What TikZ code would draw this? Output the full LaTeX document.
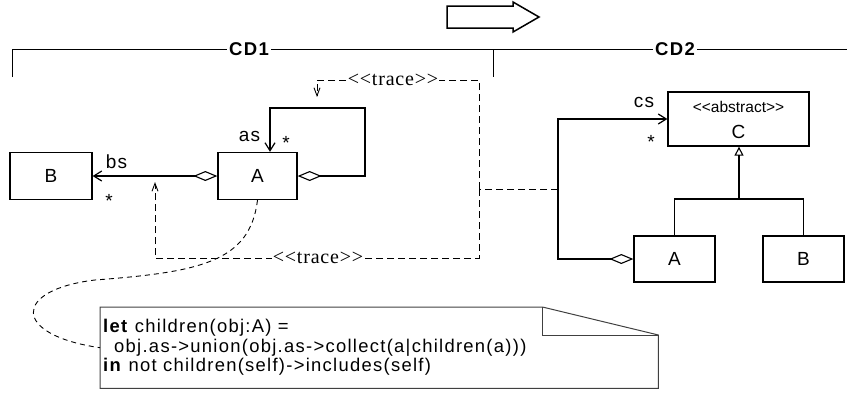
\documentclass[tikz,border=0pt]{standalone}
\usepackage{fontspec}
\setmainfont{Liberation Sans}[LetterSpace=7, Ligatures=TeXOff]
\newfontfamily\tracefont{Liberation Serif}[LetterSpace=4, Ligatures=TeXOff]
\newfontfamily\stereofont{Liberation Sans}[LetterSpace=0, Ligatures=TeXOff]
\usetikzlibrary{arrows.meta}
\begin{document}
\begin{tikzpicture}[x=1pt,y=-1pt,
  every node/.style={font=\fontsize{19}{22}\selectfont, inner sep=0pt},
  cls/.style={draw, line width=1.3pt},
  agg/.style={line width=1.3pt, {Diamond[open,length=24pt,width=10pt,line width=1.1pt]}-{Straight Barb[length=8pt,width=10pt,line width=1.2pt]}},
  trline/.style={dash pattern=on 7pt off 4pt, line width=1pt},
  tr/.style={trline, -{Straight Barb[length=8pt,width=6pt,line width=0.9pt]}},
  trlab/.style={fill=white, font=\tracefont\fontsize{20}{22}\selectfont, inner xsep=1pt, inner ysep=1pt},
  cd/.style={fill=white, font=\bfseries\fontsize{18.5}{21}\selectfont, inner xsep=2pt},
  gen/.style={line width=1.3pt},
]
\useasboundingbox (0,0) rectangle (847,394);

% big transformation arrow
\draw[line width=1.5pt, line join=miter] (447,6) -- (513,6) -- (513,2) -- (539,17) -- (513,32) -- (513,28) -- (447,28) -- cycle;

% frames
\draw[line width=1pt] (12,77) -- (12,49.5) -- (847,49.5);
\draw[line width=1pt] (493,49.5) -- (493,77);
\node[cd] (cd1) at (249,49.5) {CD1};
\node[cd] (cd2) at (675,49.5) {CD2};

% CD1 classes
\node[cls, minimum width=82pt, minimum height=47pt] (B) at (51,176) {B};
\node[cls, minimum width=79pt, minimum height=47pt] (A) at (257.5,176) {A};

% bs association
\draw[agg] (A.west) -- (B.east);
\node (bs) at (116.5,161.5) {bs};
\node (bsm) at (109,201) {*};

% self association
\coordinate (loopBR) at (365,176);
\coordinate (loopTR) at (365,108);
\coordinate (loopTL) at (270,108);
\draw[agg] (A.east) -- (loopBR) -- (loopTR) -- (loopTL) -- (loopTL |- A.north);
\node (as) at (249.5,136) {as};
\node (asm) at (286,143) {*};

% CD2 classes
\node[cls, minimum width=141pt, minimum height=54pt] (C) at (738.5,119) {};
\node[font=\stereofont\fontsize{15.5}{17}\selectfont] (Cst) at (738.5,106.5) {<<abstract>>};
\node (Cn) at (738.5,131.5) {C};
\node[cls, minimum width=81pt, minimum height=46pt] (A2) at (674.5,259) {A};
\node[cls, minimum width=81pt, minimum height=46pt] (B2) at (803.5,259) {B};

% cs association
\coordinate (cj) at (558,119);
\draw[agg] (A2.west) -| (cj) -- (C.west);
\node (cs) at (644,102) {cs};
\node (csm) at (651,142) {*};

% generalization
\coordinate (gm) at (739,199);
\draw[gen] (A2.north) |- (gm) -| (B2.north);
\draw[gen, -{Triangle[open,length=9pt,width=9pt,line width=1.1pt]}] (gm) -- (gm |- C.south);

% trace dependencies
\coordinate (tsrc) at (558,189);
\coordinate (tj) at (479,189);
\coordinate (tT) at (479,80);
\coordinate (tTL) at (317,80);
\coordinate (tTend) at (317,97);
\coordinate (tB) at (479,258);
\coordinate (tBL) at (155,258);
\coordinate (tBend) at (155,182);
\draw[trline] (tsrc) -- (tj);
\draw[tr] (tj) -- (tT) -- (tTL) -- (tTend);
\draw[tr] (tj) -- (tB) -- (tBL) -- (tBend);
\node[trlab] (trace1) at (393,80) {<<trace>>};
\node[trlab] (trace2) at (318,258) {<<trace>>};

% OCL note
\node[minimum width=558pt, minimum height=81pt, anchor=north west] (notebox) at (100,307) {};
\draw[line width=1pt, draw=black!75] (notebox.north west) -- ([xshift=-116pt]notebox.north east)
  -- ([yshift=-28pt]notebox.north east) -- (notebox.south east) -- (notebox.south west) -- cycle;
\draw[line width=1pt, draw=black!75] ([xshift=-116pt]notebox.north east) -- ([xshift=-116pt,yshift=-28pt]notebox.north east) -- ([yshift=-28pt]notebox.north east);
\node[anchor=west, align=left, font=\fontsize{18.4}{19.5}\selectfont] (notetext) at ([xshift=3pt]notebox.west)
  {\textbf{let} children(obj:A) =\\\hspace*{11pt}obj.as->union(obj.as->collect(a|children(a)))\\\textbf{in} not children(self)->includes(self)};

% note anchor
\draw[dash pattern=on 5pt off 4pt, line width=0.9pt] (A.south) .. controls (250,262) and (200,272) .. (95,280)
  .. controls (12,290) and (12,335) .. (notebox.west);
\end{tikzpicture}
\end{document}
